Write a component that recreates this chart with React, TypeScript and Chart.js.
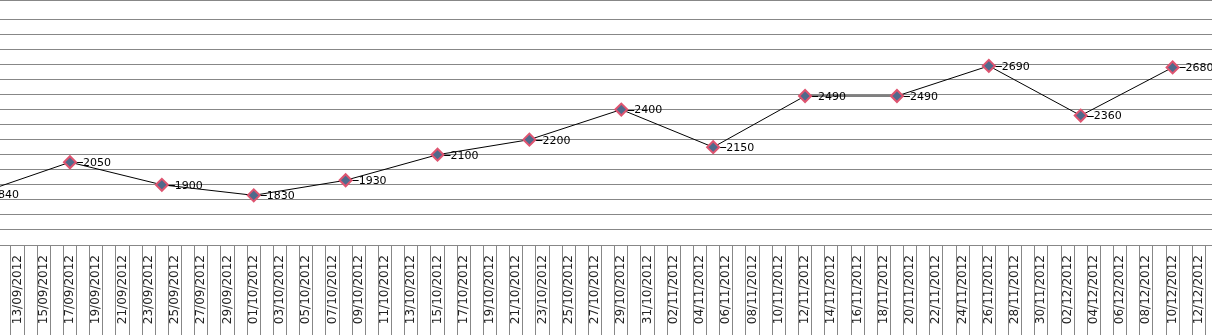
import { useEffect, useRef } from 'react';
import { Chart, registerables } from 'chart.js';

Chart.register(...registerables);

// ---- data ----
const DATES = [
  '10/09/2012', '17/09/2012', '24/09/2012', '01/10/2012', '08/10/2012',
  '15/10/2012', '22/10/2012', '29/10/2012', '05/11/2012', '12/11/2012',
  '19/11/2012', '26/11/2012', '03/12/2012', '10/12/2012',
];
const VALUES = [1840, 2050, 1900, 1830, 1930, 2100, 2200, 2400, 2150, 2490, 2490, 2690, 2360, 2680];

// axis extents and tick labelling
const X_START_DATE = '12/09/2012';
const X_START_SHIFT = -0.33;
const X_END_DATE = '13/12/2012';
const LABEL_FIRST_DATE = '13/09/2012';
const LABEL_EVERY_DAYS = 2;
const Y_MIN = 1500;
const Y_MAX = 3128;
const Y_STEP = 100;
const Y_LAST_GRID = 3000;

const DAY_MS = 86400000;
function dayOf(s: string): number {
  const [d, m, y] = s.split('/').map(Number);
  return Math.round(Date.UTC(y, m - 1, d) / DAY_MS);
}
function fmtDay(n: number): string {
  const dt = new Date(n * DAY_MS);
  const dd = String(dt.getUTCDate()).padStart(2, '0');
  const mm = String(dt.getUTCMonth() + 1).padStart(2, '0');
  return `${dd}/${mm}/${dt.getUTCFullYear()}`;
}

const GRID = '#878787';

const labelPlugin = {
  id: 'pointLabels',
  beforeDatasetsDraw(chart: any) {
    const ctx = chart.ctx;
    const meta = chart.getDatasetMeta(0);
    ctx.save();
    ctx.strokeStyle = '#000';
    ctx.lineWidth = 1;
    meta.data.forEach((pt: any) => {
      const y = Math.round(pt.y) + 0.5;
      ctx.beginPath();
      ctx.moveTo(pt.x, y);
      ctx.lineTo(pt.x + 13, y);
      ctx.stroke();
    });
    ctx.restore();
  },
  afterDatasetsDraw(chart: any) {
    const ctx = chart.ctx;
    const meta = chart.getDatasetMeta(0);
    const data = chart.data.datasets[0].data as any[];
    ctx.save();
    ctx.fillStyle = '#000';
    ctx.font = '11px "DejaVu Sans"';
    ctx.textAlign = 'left';
    ctx.textBaseline = 'middle';
    meta.data.forEach((pt: any, i: number) => {
      ctx.fillText(String(data[i].y), pt.x + 13, pt.y + 1);
    });
    ctx.restore();
  },
};

export default function App() {
  const ref = useRef<HTMLCanvasElement | null>(null);

  useEffect(() => {
    if (!ref.current) return;
    const labelStart = dayOf(LABEL_FIRST_DATE);
    const points = DATES.map((d, i) => ({ x: dayOf(d), y: VALUES[i] }));
    const chart = new Chart(ref.current, {
      type: 'line',
      data: {
        datasets: [
          {
            data: points,
            borderColor: '#000000',
            borderWidth: 1,
            tension: 0,
            pointStyle: 'rectRot',
            pointRadius: 6,
            pointBackgroundColor: '#4f6a8c',
            pointBorderColor: '#de5470',
            pointBorderWidth: 2,
          },
        ],
      },
      options: {
        animation: false,
        responsive: false,
        maintainAspectRatio: false,
        layout: { padding: 0, autoPadding: false },
        plugins: { legend: { display: false }, tooltip: { enabled: false } },
        scales: {
          x: {
            type: 'linear',
            min: dayOf(X_START_DATE) + X_START_SHIFT,
            max: dayOf(X_END_DATE),
            afterFit: (s: any) => {
              s.height = 91;
              s.paddingLeft = 0;
              s.paddingRight = 0;
            },
            border: { display: true, color: GRID, width: 1 },
            grid: {
              drawOnChartArea: false,
              drawTicks: true,
              tickLength: 90,
              offset: true,
              color: GRID,
              lineWidth: 1,
            },
            ticks: {
              stepSize: 1,
              includeBounds: false,
              autoSkip: false,
              minRotation: 90,
              maxRotation: 90,
              padding: -80,
              color: '#222',
              font: { family: '"DejaVu Sans"', size: 12 },
              callback: (v: any) => {
                const d = Number(v);
                if (((d - labelStart) % LABEL_EVERY_DAYS + LABEL_EVERY_DAYS) % LABEL_EVERY_DAYS !== 0) return '';
                return fmtDay(d);
              },
            },
          },
          y: {
            min: Y_MIN,
            max: Y_MAX,
            afterFit: (s: any) => {
              s.width = 0;
            },
            afterBuildTicks: (s: any) => {
              const t: any[] = [];
              for (let v = Y_MIN; v <= Y_LAST_GRID; v += Y_STEP) t.push({ value: v });
              t.push({ value: Y_MAX });
              s.ticks = t;
            },
            border: { display: false },
            grid: { color: GRID, lineWidth: 1, drawTicks: false },
            ticks: { display: false },
          },
        },
      },
      plugins: [labelPlugin],
    });
    return () => chart.destroy();
  }, []);

  return (
    <div style={{ position: 'fixed', left: 0, top: 0, width: 1212, height: 336, background: '#fff', overflow: 'hidden' }}>
      <canvas ref={ref} width={1212} height={336} style={{ display: 'block' }} />
    </div>
  );
}
